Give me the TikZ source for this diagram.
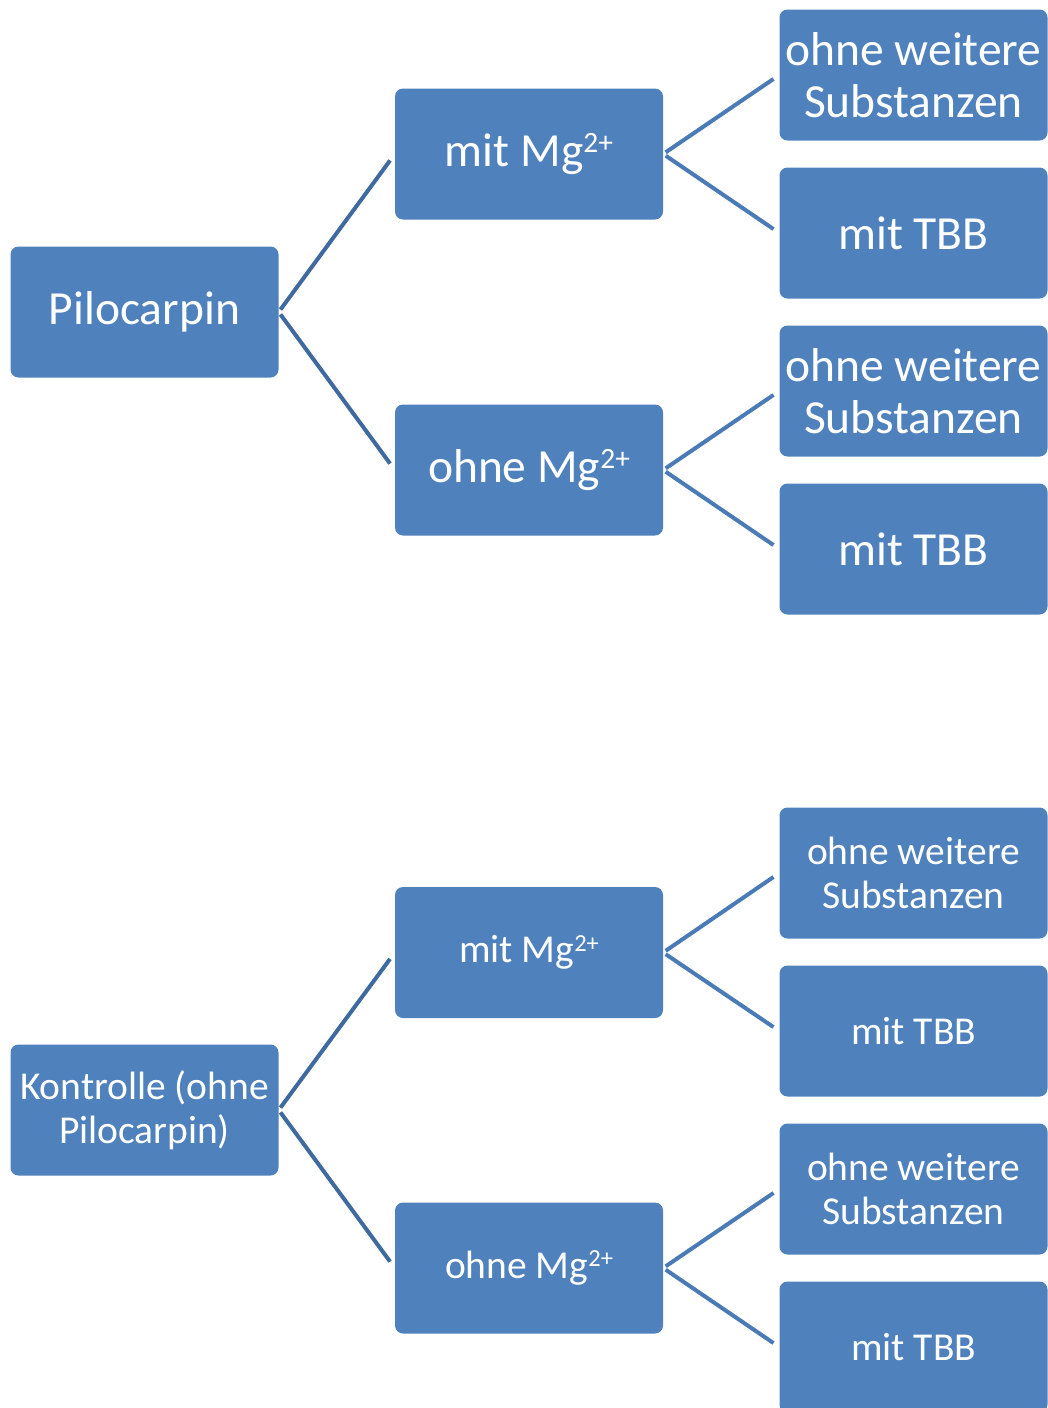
\documentclass[tikz,border=0pt]{standalone}
\usepackage{graphicx}
\usepackage{fontspec}
\setmainfont{Carlito}
\newcommand\hochsetz[1]{\raisebox{0.29em}{\scalebox{0.62}{#1}}}
\definecolor{boxblue}{HTML}{4F81BD}
\definecolor{linkdark}{HTML}{3E6AA0}
\definecolor{linklight}{HTML}{4A7BB7}
\begin{document}
\begin{tikzpicture}[x=1pt,y=-1pt,
  box/.style={rectangle, rounded corners=8pt, fill=boxblue, draw=none, text=white,
    minimum width=268pt, minimum height=131pt, inner sep=0pt, align=flush center, text width=266pt},
  big/.style={font=\fontsize{47.5}{52}\selectfont},
  small/.style={font=\fontsize{39.5}{44}\selectfont},
  linkL/.style={draw=linkdark, line width=4pt, shorten <=3pt, shorten >=8pt},
  linkR/.style={draw=linklight, line width=4pt, shorten <=3pt, shorten >=7pt}]
\useasboundingbox (0,0) rectangle (1047,1408);
% top group
\node[box,big] (pilo) at (144.5,312) {Pilocarpin};
\node[box,big] (mitA) at (529,154) {mit Mg\hochsetz{2+}};
\node[box,big] (ohneA) at (529,470) {ohne Mg\hochsetz{2+}};
\node[box,big] (r1) at (913.5,75) {ohne weitere\\Substanzen};
\node[box,big] (r2) at (913.5,233) {mit TBB};
\node[box,big] (r3) at (913.5,391) {ohne weitere\\Substanzen};
\node[box,big] (r4) at (913.5,549) {mit TBB};
% bottom group
\node[box,small] (kon) at (144.5,1110) {Kontrolle (ohne\\Pilocarpin)};
\node[box,small] (mitB) at (529,952.5) {mit Mg\hochsetz{2+}};
\node[box,small] (ohneB) at (529,1268) {ohne Mg\hochsetz{2+}};
\node[box,small] (r5) at (913.5,873) {ohne weitere\\Substanzen};
\node[box,small] (r6) at (913.5,1031) {mit TBB};
\node[box,small] (r7) at (913.5,1189) {ohne weitere\\Substanzen};
\node[box,small] (r8) at (913.5,1347) {mit TBB};
% connectors
\draw[linkL] (pilo.east) -- (mitA.west);
\draw[linkL] (pilo.east) -- (ohneA.west);
\draw[linkR] (mitA.east) -- (r1.west);
\draw[linkR] (mitA.east) -- (r2.west);
\draw[linkR] (ohneA.east) -- (r3.west);
\draw[linkR] (ohneA.east) -- (r4.west);
\draw[linkL] (kon.east) -- (mitB.west);
\draw[linkL] (kon.east) -- (ohneB.west);
\draw[linkR] (mitB.east) -- (r5.west);
\draw[linkR] (mitB.east) -- (r6.west);
\draw[linkR] (ohneB.east) -- (r7.west);
\draw[linkR] (ohneB.east) -- (r8.west);
\end{tikzpicture}
\end{document}
